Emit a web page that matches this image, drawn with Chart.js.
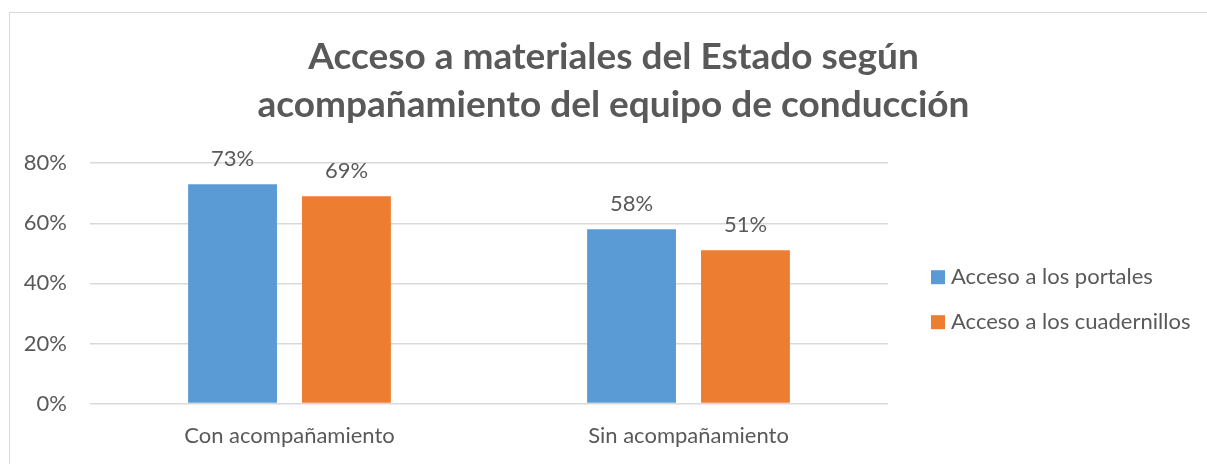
<!DOCTYPE html>
<html>
<head>
<meta charset="utf-8">
<script src="https://cdn.jsdelivr.net/npm/chart.js@4/dist/chart.umd.min.js"></script>
<style>
  body { margin: 0; background: #fff; overflow: hidden; }
  #frame {
    position: absolute; left: 9px; top: 12px;
    width: 1200px; height: 470px;
    border: 1px solid #d9d9d9; box-sizing: border-box;
  }
  #wrap { position: absolute; left: 0; top: 0; width: 1198px; height: 452px; }
</style>
</head>
<body>
<div id="frame"><div id="wrap"><canvas id="chart"></canvas></div></div>
<script>
// data
const categories = ['Con acompañamiento', 'Sin acompañamiento'];
const seriesNames = ['Acceso a los portales', 'Acceso a los cuadernillos'];
const portales = [0.73, 0.58];
const cuadernillos = [0.69, 0.51];
const yTicks = [0, 0.2, 0.4, 0.6, 0.8];

const colors = ['#5B9BD5', '#ED7D31'];
const textGray = '#595959';
const fontFamily = 'Lato, "Noto Sans", sans-serif';

// value labels above bars
const barLabels = {
  id: 'barLabels',
  afterDatasetsDraw(chart) {
    const c = chart.ctx;
    c.save();
    c.font = '22px ' + fontFamily;
    c.fillStyle = textGray;
    c.textAlign = 'center';
    c.textBaseline = 'middle';
    chart.data.datasets.forEach((ds, i) => {
      chart.getDatasetMeta(i).data.forEach((bar, j) => {
        c.fillText(Math.round(ds.data[j] * 100) + '%', bar.x, bar.y - 25);
      });
    });
    c.restore();
  }
};

// legend drawn at the right of the plot, like the Excel one
const sideLegend = {
  id: 'sideLegend',
  afterDraw(chart) {
    const c = chart.ctx;
    const area = chart.chartArea;
    c.save();
    c.font = '22px ' + fontFamily;
    c.textBaseline = 'middle';
    c.textAlign = 'left';
    chart.data.datasets.forEach((ds, i) => {
      const x = area.right + 43;
      const y = area.top + 114 + i * 45;
      c.fillStyle = ds.backgroundColor;
      c.fillRect(x, y - 7, 14, 14);
      c.fillStyle = textGray;
      c.fillText(ds.label, x + 20, y);
    });
    c.restore();
  }
};

const ctx = document.getElementById('chart').getContext('2d');
const chart = new Chart(ctx, {
  type: 'bar',
  data: {
    labels: categories,
    datasets: [{
      label: seriesNames[0],
      data: portales,
      backgroundColor: colors[0],
      borderWidth: 0
    },
    {
      label: seriesNames[1],
      data: cuadernillos,
      backgroundColor: colors[1],
      borderWidth: 0
    }]
  },
  options: {
    maintainAspectRatio: false,
    animation: false,
    datasets: {
      bar: { categoryPercentage: 0.571, barPercentage: 0.78 }
    },
    layout: { padding: { left: 10, right: 1, top: 0, bottom: 5 } },
    scales: {
      x: {
        grid: { display: false },
        border: { display: false },
        ticks: { color: textGray, font: { size: 22, family: fontFamily }, padding: 11 }
      },
      y: {
        min: 0,
        max: 0.8,
        afterBuildTicks(axis) { axis.ticks = yTicks.map(v => ({ value: v })); },
        afterFit(axis) { axis.width = 70; },
        grid: { color: '#d9d9d9', lineWidth: 1.5, drawTicks: false },
        border: { display: false },
        ticks: {
          color: textGray,
          font: { size: 22, family: fontFamily },
          padding: 23,
          callback: v => Math.round(v * 100) + '%'
        }
      },
      // empty axis that keeps room for the legend on the right
      legendRoom: {
        position: 'right',
        afterFit(axis) { axis.width = 319; },
        grid: { display: false },
        border: { display: false },
        ticks: { display: false }
      }
    },
    plugins: {
      title: {
        display: true,
        text: ['Acceso a materiales del Estado según', 'acompañamiento del equipo de conducción'],
        color: textGray,
        font: { size: 37, weight: 'bold', family: fontFamily, lineHeight: 1.3 },
        padding: { top: 20, bottom: 34 }
      },
      legend: { display: false },
      tooltip: { enabled: false }
    }
  },
  plugins: [barLabels, sideLegend]
});
</script>
</body>
</html>
